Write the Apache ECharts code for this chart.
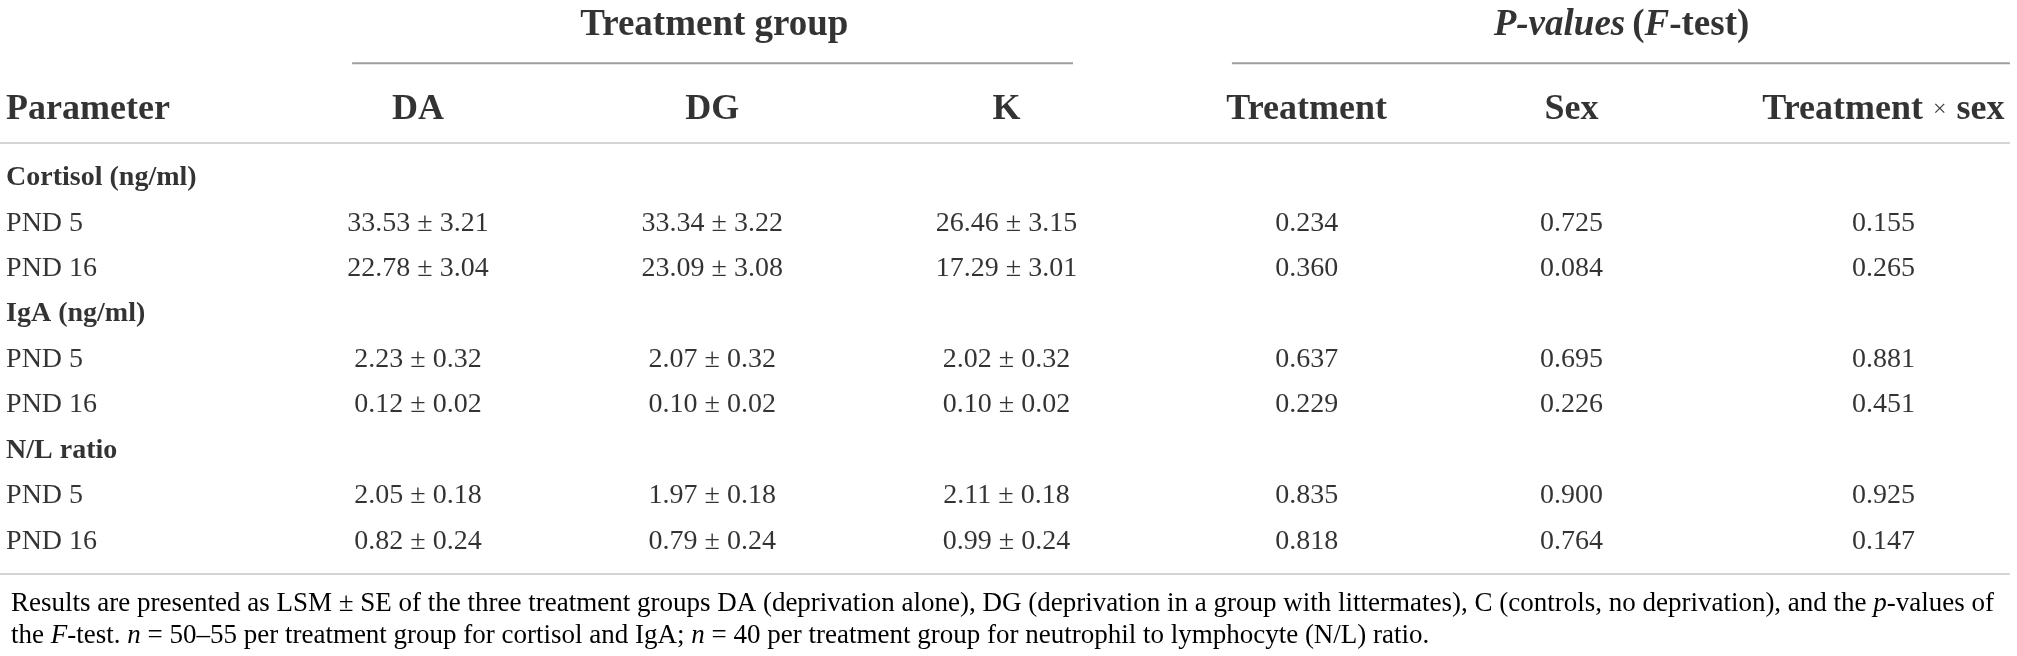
<!DOCTYPE html>
<html>
<head>
  <meta charset="utf-8">
  <title>Treatment group table</title>
  <script src="https://cdn.jsdelivr.net/npm/echarts@6/dist/echarts.min.js"></script>
  <style type="text/css">
    html,
    body {
      margin: 0;
      background-color: #fff;
    }

    #main {
      width: 2017px;
      height: 656px;
    }
  </style>
</head>
<body>
  <div id="main"></div>
  <script type="text/javascript">
    // table content
    var parameters = ['Cortisol (ng/ml)', 'IgA (ng/ml)', 'N/L ratio'];
    var days = ['PND 5', 'PND 16'];
    var groups = ['DA', 'DG', 'K'];
    var effects = ['Treatment', 'Sex', 'Treatment × sex'];

    // LSM / SE, order: cortisol PND5, PND16, IgA PND5, PND16, N/L PND5, PND16
    var meanDA = [33.53, 22.78, 2.23, 0.12, 2.05, 0.82];
    var seDA = [3.21, 3.04, 0.32, 0.02, 0.18, 0.24];
    var meanDG = [33.34, 23.09, 2.07, 0.10, 1.97, 0.79];
    var seDG = [3.22, 3.08, 0.32, 0.02, 0.18, 0.24];
    var meanK = [26.46, 17.29, 2.02, 0.10, 2.11, 0.99];
    var seK = [3.15, 3.01, 0.32, 0.02, 0.18, 0.24];

    // p-values of the F-test
    var pTreatment = [0.234, 0.360, 0.637, 0.229, 0.835, 0.818];
    var pSex = [0.725, 0.084, 0.695, 0.226, 0.900, 0.764];
    var pInteraction = [0.155, 0.265, 0.881, 0.451, 0.925, 0.147];

    // layout (axis units: one column step on x, one row step on y)
    var colPos = [0, 1, 2, 3.02, 3.92, 4.98];
    var paramX = -1.40;
    var headerRow = -1.507;
    var spanRow = -3.35;
    var spanLineRow = -2.529;
    var spans = [[-0.224, 2.226, 1.007], [2.766, 5.41, 4.09]];
    var ruleRows = [-0.771, 8.722];

    var serif = 'Liberation Serif';
    var ink = '#000';

    var groupCells = [], dayCells = [], valueCells = [];
    var meansSe = [[meanDA, seDA], [meanDG, seDG], [meanK, seK]];
    var pvals = [pTreatment, pSex, pInteraction];
    parameters.forEach(function (p, i) {
      groupCells.push({ value: [paramX, 3 * i], name: p });
      days.forEach(function (d, j) {
        var k = 2 * i + j, r = 3 * i + 1 + j;
        dayCells.push({ value: [paramX, r], name: d });
        meansSe.forEach(function (ms, c) {
          valueCells.push({ value: [colPos[c], r], name: ms[0][k].toFixed(2) + ' ± ' + ms[1][k].toFixed(2) });
        });
        pvals.forEach(function (pv, c) {
          valueCells.push({ value: [colPos[3 + c], r], name: pv[k].toFixed(3) });
        });
      });
    });

    var headCells = [];
    groups.concat(effects).forEach(function (h, c) {
      headCells.push({ value: [colPos[c], headerRow], name: h });
    });

    var spanCells = [
      { value: [spans[0][2], spanRow], name: '{s|Treatment group}' },
      { value: [spans[1][2], spanRow], name: '{si|P-values} {s|(}{si|F}{s|-test)}' }
    ];

    var lines = [];
    ruleRows.forEach(function (r) { lines.push([-1.4206, 5.41, r, 1]); });
    spans.forEach(function (s) { lines.push([s[0], s[1], spanLineRow, 0]); });

    function textSeries(data, label) {
      return {
        type: 'scatter',
        data: data,
        symbolSize: 0,
        silent: true,
        clip: false,
        label: Object.assign({
          show: true,
          formatter: '{b}',
          color: ink,
          fontFamily: serif,
          fontSize: 28
        }, label)
      };
    }

    var headRich = {
      b: { fontFamily: serif, fontSize: 36, fontWeight: 'bold', color: ink },
      x: { fontFamily: serif, fontSize: 24, color: ink, padding: [0, 3] },
      s: { fontFamily: serif, fontSize: 37, fontWeight: 'bold', color: ink },
      si: { fontFamily: serif, fontSize: 37, fontWeight: 'bold', fontStyle: 'italic', color: ink }
    };

    var chart = echarts.init(document.getElementById('main'), null, { renderer: 'canvas' });

    var option = {
      animation: false,
      backgroundColor: '#fff',
      grid: { left: 0, right: 0, top: 0, bottom: 0 },
      xAxis: { type: 'value', min: -1.4206, max: 5.4341, show: false },
      yAxis: { type: 'value', inverse: true, min: -3.921, max: 10.529, show: false },
      title: {
        left: 6,
        top: 583,
        text: 'Results are presented as LSM ± SE of the three treatment groups DA (deprivation alone), DG (deprivation in a group with littermates), C (controls, no deprivation), and the {i|p}-values of\nthe {i|F}-test. {i|n} = 50–55 per treatment group for cortisol and IgA; {i|n} = 40 per treatment group for neutrophil to lymphocyte (N/L) ratio.',
        textStyle: {
          fontFamily: serif,
          fontSize: 27,
          fontWeight: 'normal',
          color: ink,
          lineHeight: 32,
          rich: {
            i: { fontFamily: serif, fontSize: 27, fontStyle: 'italic', color: ink, lineHeight: 32 }
          }
        }
      },
      series: [
        {
          type: 'custom',
          silent: true,
          data: lines,
          encode: { x: [0, 1], y: 2 },
          renderItem: function (params, api) {
            var a = api.coord([api.value(0), api.value(2)]);
            var b = api.coord([api.value(1), api.value(2)]);
            var dark = api.value(3) === 0;
            return {
              type: 'line',
              shape: { x1: a[0], y1: a[1], x2: b[0], y2: b[1] },
              style: { stroke: dark ? '#9e9e9e' : '#c6c6c6', lineWidth: dark ? 2 : 1.5 }
            };
          }
        },
        textSeries(valueCells, { position: 'inside' }),
        textSeries(dayCells, { position: 'right', distance: 0 }),
        textSeries(groupCells, { position: 'right', distance: 0, fontWeight: 'bold' }),
        textSeries([{ value: [paramX, headerRow], name: 'Parameter' }],
          { position: 'right', distance: 0, fontWeight: 'bold', fontSize: 36 }),
        textSeries(headCells, {
          position: 'inside',
          formatter: function (p) {
            return p.name.indexOf('×') > 0
              ? '{b|Treatment} {x|×} {b|sex}'
              : '{b|' + p.name + '}';
          },
          rich: headRich
        }),
        textSeries(spanCells, { position: 'inside', rich: headRich })
      ]
    };

    chart.setOption(option);
  </script>
</body>
</html>
